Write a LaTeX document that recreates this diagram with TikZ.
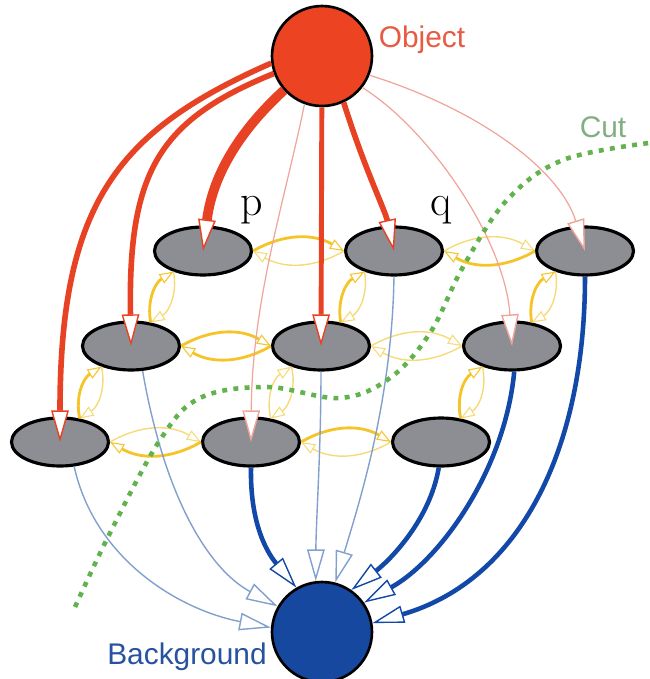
\documentclass[tikz,border=0pt]{standalone}
\usepackage{fontspec}
\newfontfamily\labelfont{Liberation Sans}
\usepackage{xcolor}
\usetikzlibrary{arrows.meta,shapes.geometric}
\definecolor{objred}{RGB}{236,68,34}
\definecolor{objtext}{RGB}{232,90,68}
\definecolor{linkred}{RGB}{232,66,36}
\definecolor{linkpink}{RGB}{240,165,155}
\definecolor{bgblue}{RGB}{22,72,160}
\definecolor{bgtext}{RGB}{40,82,160}
\definecolor{linkblue}{RGB}{18,72,168}
\definecolor{linklight}{RGB}{130,160,205}
\definecolor{pixgray}{RGB}{140,142,148}
\definecolor{nyellow}{RGB}{244,196,40}
\definecolor{nyellowlt}{RGB}{247,218,120}
\definecolor{cutgreen}{RGB}{98,178,78}
\definecolor{cuttext}{RGB}{130,175,130}

\begin{document}
\begin{tikzpicture}[x=0.02cm,y=-0.02cm,
  pix/.style={ellipse,draw=black,fill=pixgray,line width=1.8pt,minimum width=1.94cm,minimum height=0.96cm,inner sep=0pt},
  term/.style={circle,draw=black,line width=1.5pt,minimum size=2cm,inner sep=0pt},
  tlink/.style={-{Triangle[fill=white,length=18pt,width=10pt,line width=0.8pt]}},
  nlink/.style={-{Triangle[fill=white,length=8pt,width=6pt,line width=0.6pt]}},
  nthick/.style={nlink,draw=nyellow,line width=1.6pt},
  nthin/.style={nlink,draw=nyellowlt,line width=0.8pt},
  cutline/.style={draw=cutgreen,line width=2.6pt,dash pattern=on 2.8pt off 3.6pt},
  lbl/.style={font={\labelfont\fontsize{17}{20}\selectfont}}]
\useasboundingbox (0,0) rectangle (649,679);

% terminals and pixels
\node[term,fill=objred] (obj) at (322,56) {};
\node[term,fill=bgblue] (bg) at (322,632) {};
\node[pix] (n11) at (203,251) {};
\node[pix] (n12) at (394,251) {};
\node[pix] (n13) at (585,251) {};
\node[pix] (n21) at (131,346) {};
\node[pix] (n22) at (321,346) {};
\node[pix] (n23) at (512,346) {};
\node[pix] (n31) at (60,442) {};
\node[pix] (n32) at (251,442) {};
\node[pix] (n33) at (441,442) {};

\node[lbl,text=objtext] (objlbl) at (422,40) {Object};
\node[lbl,text=bgtext] (bglbl) at (187,657) {Background};
\node[lbl,text=cuttext] (cutlbl) at (603,127) {Cut};
\node[font=\fontsize{25}{30}\selectfont] (plbl) at (252,210) {p};
\node[font=\fontsize{25}{30}\selectfont] (qlbl) at (441,210) {q};

% neighbour links
\foreach \a/\b/\sa/\sb in {n11/n12/nthick/nthin,n12/n13/nthin/nthick,n21/n22/nthick/nthick,
  n22/n23/nthin/nthin,n31/n32/nthin/nthick,n32/n33/nthick/nthin}{
\draw[\sa] (\a.east) to[bend left=30] (\b.west);
\draw[\sb] (\b.west) to[bend left=30] (\a.east);
}
\foreach \a/\b/\sa/\sb in {n11/n21/nthin/nthick,n21/n31/nthin/nthick,n12/n22/nthin/nthick,
  n22/n32/nthin/nthin,n13/n23/nthin/nthick,n23/n33/nthin/nthick}{
\draw[\sa] (\a.215) to[bend left=35] (\b.50);
\draw[\sb] (\b.50) to[bend left=35] (\a.215);
}

% sink links
\draw[tlink,linklight,line width=0.8pt] (n31.300) .. controls (95,560) and (180,610) .. (bg.175);
\draw[tlink,linklight,line width=0.8pt] (n21.295) .. controls (165,500) and (210,570) .. (bg.150);
\draw[tlink,linkblue,line width=2.6pt] (n32.270) .. controls (250,520) and (265,550) .. (bg.120);
\draw[tlink,linklight,line width=0.8pt] (n22.south) .. controls (321,450) and (316,520) .. (bg.97);
\draw[tlink,linklight,line width=0.8pt] (n12.south) .. controls (392,400) and (360,500) .. (bg.75);
\draw[tlink,linkblue,line width=2.6pt] (n33.265) .. controls (430,520) and (390,560) .. (bg.55);
\draw[tlink,linkblue,line width=2.6pt] (n23.275) .. controls (505,470) and (440,560) .. (bg.35);
\draw[tlink,linkblue,line width=2.6pt] (n13.south) .. controls (585,450) and (520,580) .. (bg.10);

% source links
\draw[tlink,linkred,line width=3.2pt] (obj.188) .. controls (120,130) and (60,200) .. (n31.center);
\draw[tlink,linkred,line width=3.2pt] (obj.200) .. controls (160,120) and (128,170) .. (n21.center);
\draw[tlink,linkred,line width=5.5pt] (obj.222) .. controls (235,135) and (212,180) .. (n11.center);
\draw[tlink,linkpink,line width=0.7pt] (obj.250) .. controls (285,200) and (252,300) .. (n32.center);
\draw[tlink,linkred,line width=2.8pt] (obj) -- (n22.center);
\draw[tlink,linkred,line width=3.2pt] (obj.295) .. controls (365,170) and (385,210) .. (n12.center);
\draw[tlink,linkpink,line width=0.7pt] (obj.322) .. controls (430,130) and (505,240) .. (n23.center);
\draw[tlink,linkpink,line width=0.7pt] (obj.338) .. controls (480,110) and (560,170) .. (n13.center);

% the cut
\draw[cutline] plot[smooth,tension=0.6] coordinates {(75,607) (110,533) (160,440) (200,398)
  (267,387) (340,398) (390,378) (430,333) (463,267) (507,200) (563,160) (649,143)};
\end{tikzpicture}
\end{document}
